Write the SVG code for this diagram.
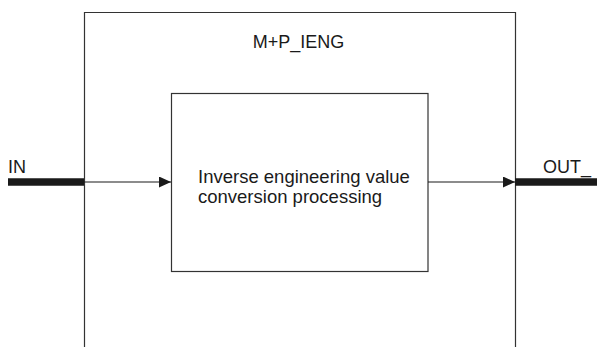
<svg xmlns="http://www.w3.org/2000/svg" width="597" height="347" viewBox="0 0 597 347">
<style>
.t{font-family:"Liberation Sans",Arial,sans-serif;font-size:18px;fill:#1a1a1a}
.tb{font-size:18.5px}
.box{fill:none;stroke:#333;stroke-width:1.2}
.thin{stroke:#1a1a1a;stroke-width:1.2;fill:none}
.thick{stroke:#1a1a1a;stroke-width:7.5;fill:none}
</style>
<defs>
<marker id="ah" markerWidth="12" markerHeight="11" refX="12" refY="5.5" orient="auto" markerUnits="userSpaceOnUse">
<path d="M0,0 L12,5.5 L0,11 Z" fill="#1a1a1a"/>
</marker>
</defs>
<rect width="597" height="347" fill="#fff"/>
<g id="outer">
<path class="box" d="M84.5,347 V12.5 H515.5 V347"/>
<text class="t" x="298.5" y="48" text-anchor="middle">M+P_IENG</text>
</g>
<g id="inner">
<rect class="box" x="171.5" y="93.5" width="256.5" height="178"/>
<text class="t tb" x="198" y="182.7">Inverse engineering value</text>
<text class="t tb" x="198" y="203.3">conversion processing</text>
</g>
<g id="in">
<text class="t" x="8" y="172.5">IN</text>
</g>
<g id="out">
<text class="t" x="543" y="172.5">OUT_</text>
</g>
<g id="connectors">
<line class="thick" x1="8" y1="182" x2="84" y2="182"/>
<line class="thin" x1="84" y1="182" x2="171" y2="182" marker-end="url(#ah)"/>
<line class="thin" x1="428" y1="182" x2="515" y2="182" marker-end="url(#ah)"/>
<line class="thick" x1="515" y1="182" x2="597" y2="182"/>
</g>
</svg>
